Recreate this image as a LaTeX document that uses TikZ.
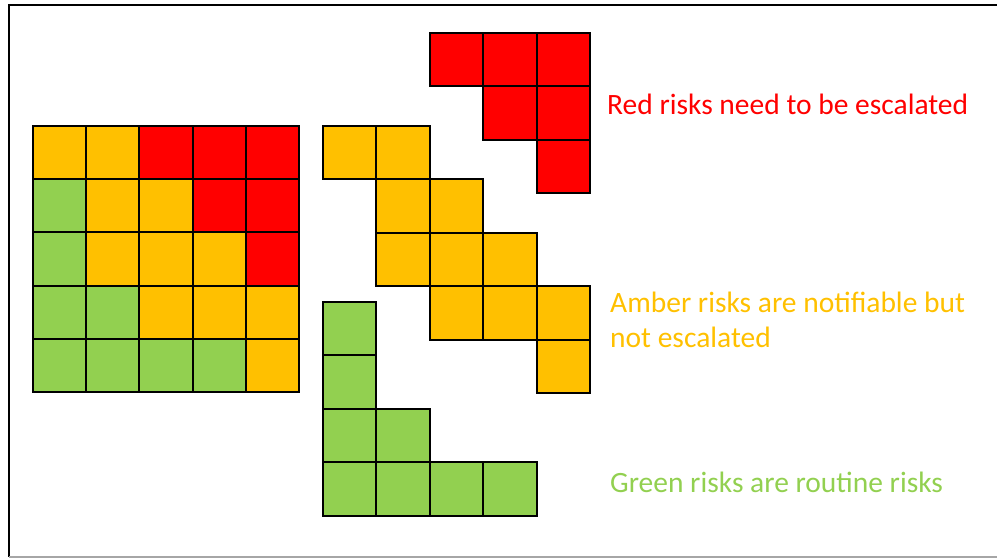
\documentclass[tikz,border=0pt]{standalone}
\usepackage{fontspec}
\setmainfont{Carlito}
\usetikzlibrary{positioning}
\definecolor{R}{HTML}{FF0000}
\definecolor{A}{HTML}{FFC000}
\definecolor{G}{HTML}{92D050}
\tikzstyle{cell}=[draw=black, line width=2.1pt, line join=miter]
\tikzstyle{note}=[inner sep=0pt, anchor=base west, align=left, font=\fontsize{29.5}{35}\selectfont]

\begin{document}
\begin{tikzpicture}[x=1pt,y=-1pt]
	\useasboundingbox (0,0) rectangle (997,559);
	% frame
	\draw [line width=2.5pt] (997,5) -- (9,5) -- (9,557);
	\draw [gray!70, line width=1.5pt] (9,557) -- (997,557);
	% risk matrix
	\foreach \line [count=\r from 0] in {{A,A,R,R,R},{G,A,A,R,R},{G,A,A,A,R},{G,G,A,A,A},{G,G,G,G,A}}
		\foreach \k [count=\c from 0] in \line
			\filldraw [cell, fill=\k] ({33+\c*53.2},{126+\r*53.2}) rectangle +(53.2,53.2);
	% red piece
	\foreach \c/\r in {0/0,1/0,2/0,1/1,2/1,2/2}
		\filldraw [cell, fill=R] ({430+\c*53.4},{33+\r*53.4}) rectangle +(53.4,53.4);
	% amber piece
	\foreach \c/\r in {0/0,1/0,1/1,2/1,1/2,2/2,3/2,2/3,3/3,4/3,4/4}
		\filldraw [cell, fill=A] ({323+\c*53.4},{126+\r*53.4}) rectangle +(53.4,53.4);
	% green piece
	\foreach \c/\r in {0/0,0/1,0/2,1/2,0/3,1/3,2/3,3/3}
		\filldraw [cell, fill=G] ({323+\c*53.4},{302+\r*53.4}) rectangle +(53.4,53.4);
	% labels
	\node [note, text=R] (red) at (607,115) {Red risks need to be escalated};
	\node [note, text=A] (amber) at (610,347) {Amber risks are notifiable but\\not escalated};
	\node [note, text=G] (green) at (610,492) {Green risks are routine risks};
\end{tikzpicture}
\end{document}
